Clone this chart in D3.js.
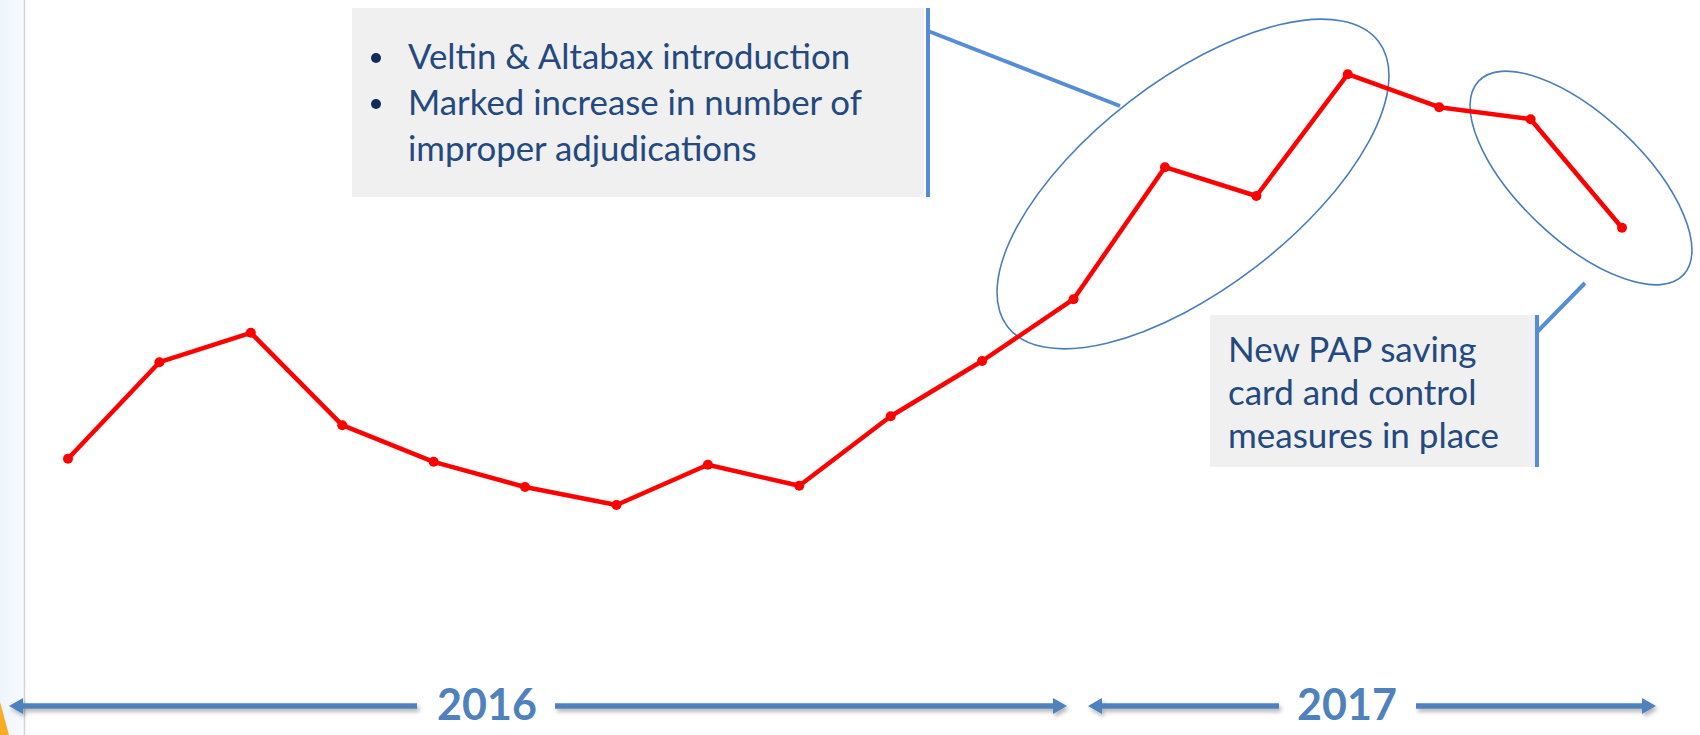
<!DOCTYPE html>
<html>
<head>
<meta charset="utf-8">
<script src="https://cdn.jsdelivr.net/npm/d3@7"></script>
<style>
  html, body { margin: 0; padding: 0; background: #ffffff; }
  svg { display: block; }
</style>
</head>
<body>
<svg id="chart" width="1700" height="735"></svg>
<script>
// ---- data ----
const months = ["Jan 2016","Feb 2016","Mar 2016","Apr 2016","May 2016","Jun 2016",
                "Jul 2016","Aug 2016","Sep 2016","Oct 2016","Nov 2016","Dec 2016",
                "Jan 2017","Feb 2017","Mar 2017","Apr 2017","May 2017","Jun 2017"];
const values = [30.2, 46.3, 51.2, 35.8, 29.7, 25.5, 22.5, 29.2, 25.7, 37.3, 46.5, 56.8,
                78.8, 74.0, 94.3, 88.8, 86.8, 68.7];
const yearLabels = ["2016", "2017"];
const note1Lines = ["Veltin & Altabax introduction", "Marked increase in number of", "improper adjudications"];
const note1Bullets = [true, true, false];
const note2Lines = ["New PAP saving", "card and control", "measures in place"];

// ---- setup ----
const svg = d3.select("#chart");
const W = 1700, H = 735;
const x = d3.scalePoint().domain(months).range([68, 1622]);
const y = d3.scaleLinear().domain([0, 100]).range([640, 40]);

const defs = svg.append("defs");
const grad = defs.append("linearGradient").attr("id", "leftbg").attr("x1", 0).attr("x2", 1).attr("y1", 0).attr("y2", 0);
grad.append("stop").attr("offset", "0%").attr("stop-color", "#eef5fc");
grad.append("stop").attr("offset", "100%").attr("stop-color", "#f7fafd");
const sh = defs.append("filter").attr("id", "shadow").attr("x", "-5%").attr("y", "-100%").attr("width", "110%").attr("height", "400%");
sh.append("feDropShadow").attr("dx", 2).attr("dy", 3).attr("stdDeviation", 2)
  .attr("flood-color", "#000").attr("flood-opacity", 0.3);

// left decoration
svg.append("rect").attr("x", 0).attr("y", 0).attr("width", 24).attr("height", H).attr("fill", "url(#leftbg)");
svg.append("line").attr("x1", 24.5).attr("x2", 24.5).attr("y1", 0).attr("y2", H)
  .attr("stroke", "#d4d6d9").attr("stroke-width", 1.5);
svg.append("polygon").attr("points", "0,702 9,735 0,735").attr("fill", "#f6ad25");

// ---- callout 1 ----
const textColor = "#23497f";
const lineBlue = "#558ed5";
const noteFont = "Lato, 'Open Sans', sans-serif";
svg.append("rect").attr("x", 352).attr("y", 8).attr("width", 572).attr("height", 189).attr("fill", "#f0f0f0");
svg.append("line").attr("x1", 928).attr("x2", 928).attr("y1", 8).attr("y2", 197)
  .attr("stroke", lineBlue).attr("stroke-width", 4);
svg.append("line").attr("x1", 928).attr("y1", 31).attr("x2", 1120).attr("y2", 106)
  .attr("stroke", lineBlue).attr("stroke-width", 4);
const n1 = svg.append("g");
note1Lines.forEach((t, i) => {
  const by = 69 + i * 46;
  if (note1Bullets[i]) {
    n1.append("circle").attr("cx", 376).attr("cy", by - 11).attr("r", 5).attr("fill", "#0f2a5c");
  }
  n1.append("text").attr("x", 408).attr("y", by).text(t)
    .attr("font-family", noteFont).attr("font-size", 34.8)
    .attr("fill", textColor);
});

// ---- callout 2 ----
svg.append("rect").attr("x", 1210).attr("y", 315).attr("width", 325).attr("height", 152).attr("fill", "#f0f0f0");
svg.append("line").attr("x1", 1537).attr("x2", 1537).attr("y1", 315).attr("y2", 467)
  .attr("stroke", lineBlue).attr("stroke-width", 4);
svg.append("line").attr("x1", 1537).attr("y1", 332).attr("x2", 1585).attr("y2", 283)
  .attr("stroke", lineBlue).attr("stroke-width", 4);
note2Lines.forEach((t, i) => {
  svg.append("text").attr("x", 1228).attr("y", 362 + i * 43).text(t)
    .attr("font-family", noteFont).attr("font-size", 35)
    .attr("fill", textColor);
});

// ---- ellipses ----
const ellStroke = "#4a7ebb";
svg.append("ellipse").attr("cx", 0).attr("cy", 0).attr("rx", 234).attr("ry", 104)
  .attr("transform", "translate(1193,184) rotate(-37.6)")
  .attr("fill", "none").attr("stroke", ellStroke).attr("stroke-width", 1.6);
svg.append("ellipse").attr("cx", 0).attr("cy", 0).attr("rx", 141).attr("ry", 62)
  .attr("transform", "translate(1581,178) rotate(43.4)")
  .attr("fill", "none").attr("stroke", ellStroke).attr("stroke-width", 1.6);

// ---- line series ----
const data = months.map((m, i) => ({ m, v: values[i] }));
svg.append("path").datum(data)
  .attr("d", d3.line().x(d => x(d.m)).y(d => y(d.v)))
  .attr("fill", "none").attr("stroke", "#ff0000").attr("stroke-width", 4.5)
  .attr("stroke-linejoin", "round");
svg.selectAll("circle.pt").data(data).enter().append("circle").attr("class", "pt")
  .attr("cx", d => x(d.m)).attr("cy", d => y(d.v)).attr("r", 5).attr("fill", "#ff0000");

// ---- year arrows ----
const arrowColor = "#4f81bd";
const ay = 706;
const ag = svg.append("g").attr("filter", "url(#shadow)");
function arrowSeg(x1, x2, headLeft, headRight) {
  const hl = 14, hh = 8;
  ag.append("rect").attr("x", x1 + (headLeft ? hl - 1 : 0)).attr("y", ay - 2.75)
    .attr("width", (x2 - (headRight ? hl - 1 : 0)) - (x1 + (headLeft ? hl - 1 : 0))).attr("height", 5.5)
    .attr("fill", arrowColor);
  if (headLeft) ag.append("polygon").attr("points", `${x1},${ay} ${x1 + hl},${ay - hh} ${x1 + hl},${ay + hh}`).attr("fill", arrowColor);
  if (headRight) ag.append("polygon").attr("points", `${x2},${ay} ${x2 - hl},${ay - hh} ${x2 - hl},${ay + hh}`).attr("fill", arrowColor);
}
arrowSeg(9, 417, true, false);
arrowSeg(555, 1067, false, true);
arrowSeg(1088, 1279, true, false);
arrowSeg(1416, 1656, false, true);
const yearX = [487, 1347];
yearLabels.forEach((t, i) => {
  svg.append("text").attr("x", yearX[i]).attr("y", 720).attr("text-anchor", "middle").text(t)
    .attr("font-family", noteFont).attr("font-weight", 700).attr("font-size", 43)
    .attr("fill", arrowColor);
});
</script>
</body>
</html>
